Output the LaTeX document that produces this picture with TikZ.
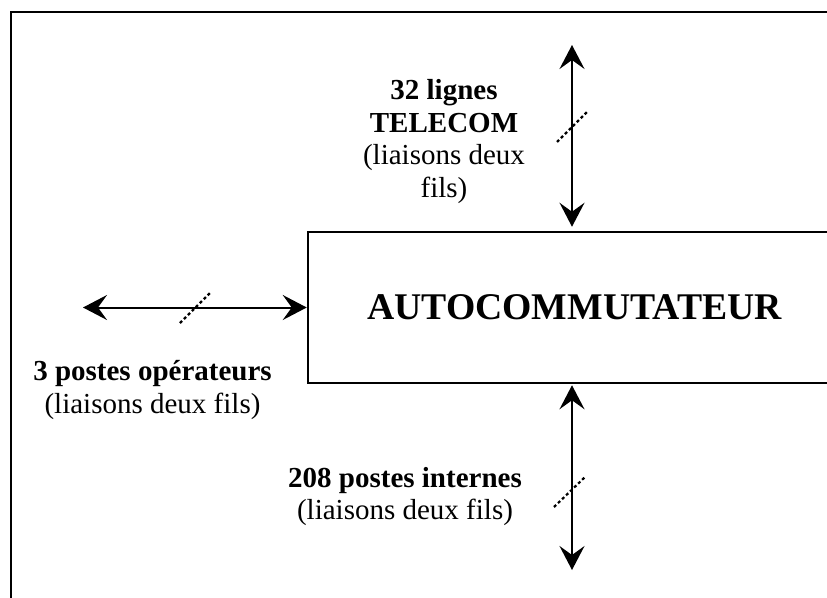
\documentclass[tikz,border=0pt]{standalone}
\usepackage{fontspec}
\setmainfont{Liberation Serif}
\usetikzlibrary{arrows.meta}

\tikzset{
  frame/.style={line width=2.5pt, line cap=rect},
  central/.style={draw, line width=2.5pt, minimum width=533pt, minimum height=151pt,
    inner sep=0pt, font=\bfseries\fontsize{37.7}{43}\selectfont},
  link/.style={line width=2pt, {Stealth[length=24pt,width=25pt,inset=9pt]}-{Stealth[length=24pt,width=25pt,inset=9pt]}},
  bundle/.style={line width=2.2pt, dash pattern=on 3pt off 2.6pt},
  caption/.style={align=center, anchor=base, inner sep=0pt,
    font=\fontsize{29}{32.5}\selectfont}
}

\begin{document}
\begin{tikzpicture}[x=1pt,y=-1pt]
  \useasboundingbox (0,0) rectangle (827,597);

  % page frame
  \draw[frame] (11,620) -- (11,12) -- (850,12);

  % switch
  \node[central] (pabx) at (574.5,307.5) {AUTOCOMMUTATEUR};

  % free ends of the links
  \coordinate (tel) at (572,45);
  \coordinate (op)  at (83,307.5);
  \coordinate (int) at (572,570);

  % links
  \draw[link, shorten >=4pt] (tel) -- (pabx.north -| tel);
  \draw[link] (op) -- (pabx.west);
  \draw[link, shorten <=1pt] (pabx.south -| int) -- (int);

  % multi-wire marks
  \draw[bundle] (557,142) -- (588,111);
  \draw[bundle] (180,323) -- (211,292);
  \draw[bundle] (554,507) -- (585,477);

  % labels (base anchor sits on the last line)
  \node[caption] (ltel) at (444,197) {\textbf{32 lignes}\\\textbf{TELECOM}\\(liaisons deux\\fils)};
  \node[caption] (lop) at (152.5,413) {\textbf{3 postes opérateurs}\\(liaisons deux fils)};
  \node[caption] (lint) at (405,519.5) {\textbf{208 postes internes}\\(liaisons deux fils)};
\end{tikzpicture}
\end{document}
